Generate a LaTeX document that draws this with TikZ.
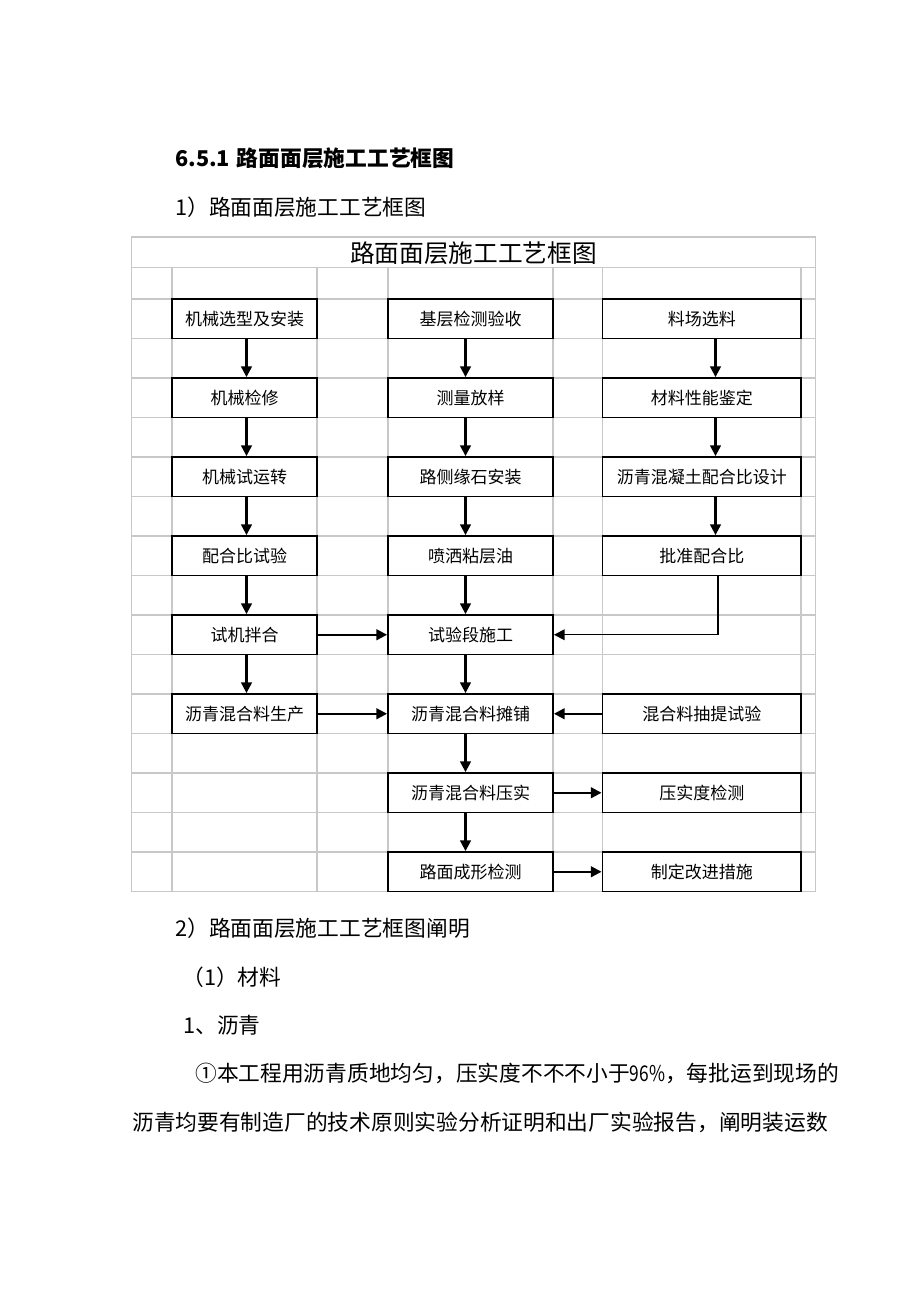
\documentclass[tikz,border=0pt]{standalone}
\usepackage{fontspec}
\usepackage{graphicx}
\setmainfont{Noto Sans CJK SC}
\usetikzlibrary{arrows.meta}
\definecolor{gridgray}{RGB}{200,200,200}
\begin{document}
\begin{tikzpicture}[x=0.75pt,y=-0.75pt,
  gridline/.style={draw=gridgray,line width=1.3pt},
  stepbox/.style={draw=black,line width=1.4pt,fill=white,minimum height=29.6pt,inner sep=0pt,font=\fontsize{12.75pt}{13pt}\selectfont},
  lbox/.style={stepbox,minimum width=108.75pt},
  mbox/.style={stepbox,minimum width=123.75pt},
  rbox/.style={stepbox,minimum width=148.9pt},
  arr/.style={-{Triangle[length=8pt,width=8pt]},line width=1.6pt},
  thinarr/.style={arr,line width=1.1pt},
  bodytext/.style={anchor=west,inner sep=0pt,font=\fontsize{16.3pt}{16.3pt}\selectfont}]
\useasboundingbox (0,0) rectangle (920,1302);
\fill[white] (0,0) rectangle (920,1302);

% headings
\node[bodytext,font=\fontsize{16.3pt}{16.3pt}\selectfont\bfseries] (h1) at (175,158) {6.5.1\hspace{5pt}路面面层施工工艺框图};
\node[bodytext] (h2) at (175,207) {1）路面面层施工工艺框图};

% grid
\draw[gridline] (131.5,237) rectangle (815.5,891.5);
\draw[gridline] (131.5,267.5) -- (815.5,267.5);
\foreach \k in {0,...,14} \draw[gridline] (131.5,{299+39.5*\k}) -- (815.5,{299+39.5*\k});
\foreach \xx in {172,317,388,553,602.5,801} \draw[gridline] (\xx,267.5) -- (\xx,891.5);

\node[inner sep=0pt,font=\fontsize{18.5pt}{18.5pt}\selectfont] (title) at (473.5,253) {路面面层施工工艺框图};

% left column
\node[lbox] (a1) at (244.5,318.75) {机械选型及安装};
\node[lbox] (a2) at (244.5,397.75) {机械检修};
\node[lbox] (a3) at (244.5,476.75) {机械试运转};
\node[lbox] (a4) at (244.5,555.75) {配合比试验};
\node[lbox] (a5) at (244.5,634.75) {试机拌合};
\node[lbox] (a6) at (244.5,713.75) {沥青混合料生产};

% middle column
\node[mbox] (b1) at (470.5,318.75) {基层检测验收};
\node[mbox] (b2) at (470.5,397.75) {测量放样};
\node[mbox] (b3) at (470.5,476.75) {路侧缘石安装};
\node[mbox] (b4) at (470.5,555.75) {喷洒粘层油};
\node[mbox] (b5) at (470.5,634.75) {试验段施工};
\node[mbox] (b6) at (470.5,713.75) {沥青混合料摊铺};
\node[mbox] (b7) at (470.5,792.75) {沥青混合料压实};
\node[mbox] (b8) at (470.5,871.75) {路面成形检测};

% right column
\node[rbox] (c1) at (701.75,318.75) {料场选料};
\node[rbox] (c2) at (701.75,397.75) {材料性能鉴定};
\node[rbox] (c3) at (701.75,476.75) {沥青混凝土配合比设计};
\node[rbox] (c4) at (701.75,555.75) {批准配合比};
\node[rbox] (c6) at (701.75,713.75) {混合料抽提试验};
\node[rbox] (c7) at (701.75,792.75) {压实度检测};
\node[rbox] (c8) at (701.75,871.75) {制定改进措施};

% arrow x positions
\coordinate (lx) at (246.5,0);
\coordinate (mx) at (465.5,0);
\coordinate (rx) at (715.5,0);
\coordinate (ex) at (718,0);

\foreach \i/\j in {a1/a2,a2/a3,a3/a4,a4/a5,a5/a6}
  \draw[arr] (\i.south -| lx) -- (\j.north -| lx);
\foreach \i/\j in {b1/b2,b2/b3,b3/b4,b4/b5,b5/b6,b6/b7,b7/b8}
  \draw[arr] (\i.south -| mx) -- (\j.north -| mx);
\foreach \i/\j in {c1/c2,c2/c3,c3/c4}
  \draw[arr] (\i.south -| rx) -- (\j.north -| rx);

\draw[thinarr] (c4.south -| ex) |- (b5.east);
\draw[arr] (a5.east) -- (b5.west);
\draw[arr] (a6.east) -- (b6.west);
\draw[arr] (c6.west) -- (b6.east);
\draw[arr] (b7.east) -- (c7.west);
\draw[arr] (b8.east) -- (c8.west);

% body text
\node[bodytext] (t1) at (175,928) {2）路面面层施工工艺框图阐明};
\node[bodytext] (t2) at (182,977) {（1）材料};
\node[bodytext] (t3) at (183,1025) {1、沥青};
\node[bodytext] (t4) at (195,1073) {①本工程用沥青质地均匀，压实度不不不小于\scalebox{0.8}[1]{96\%}，每批运到现场的};
\node[bodytext] (t5) at (132,1122) {沥青均要有制造厂的技术原则实验分析证明和出厂实验报告，阐明装运数};
\end{tikzpicture}
\end{document}
